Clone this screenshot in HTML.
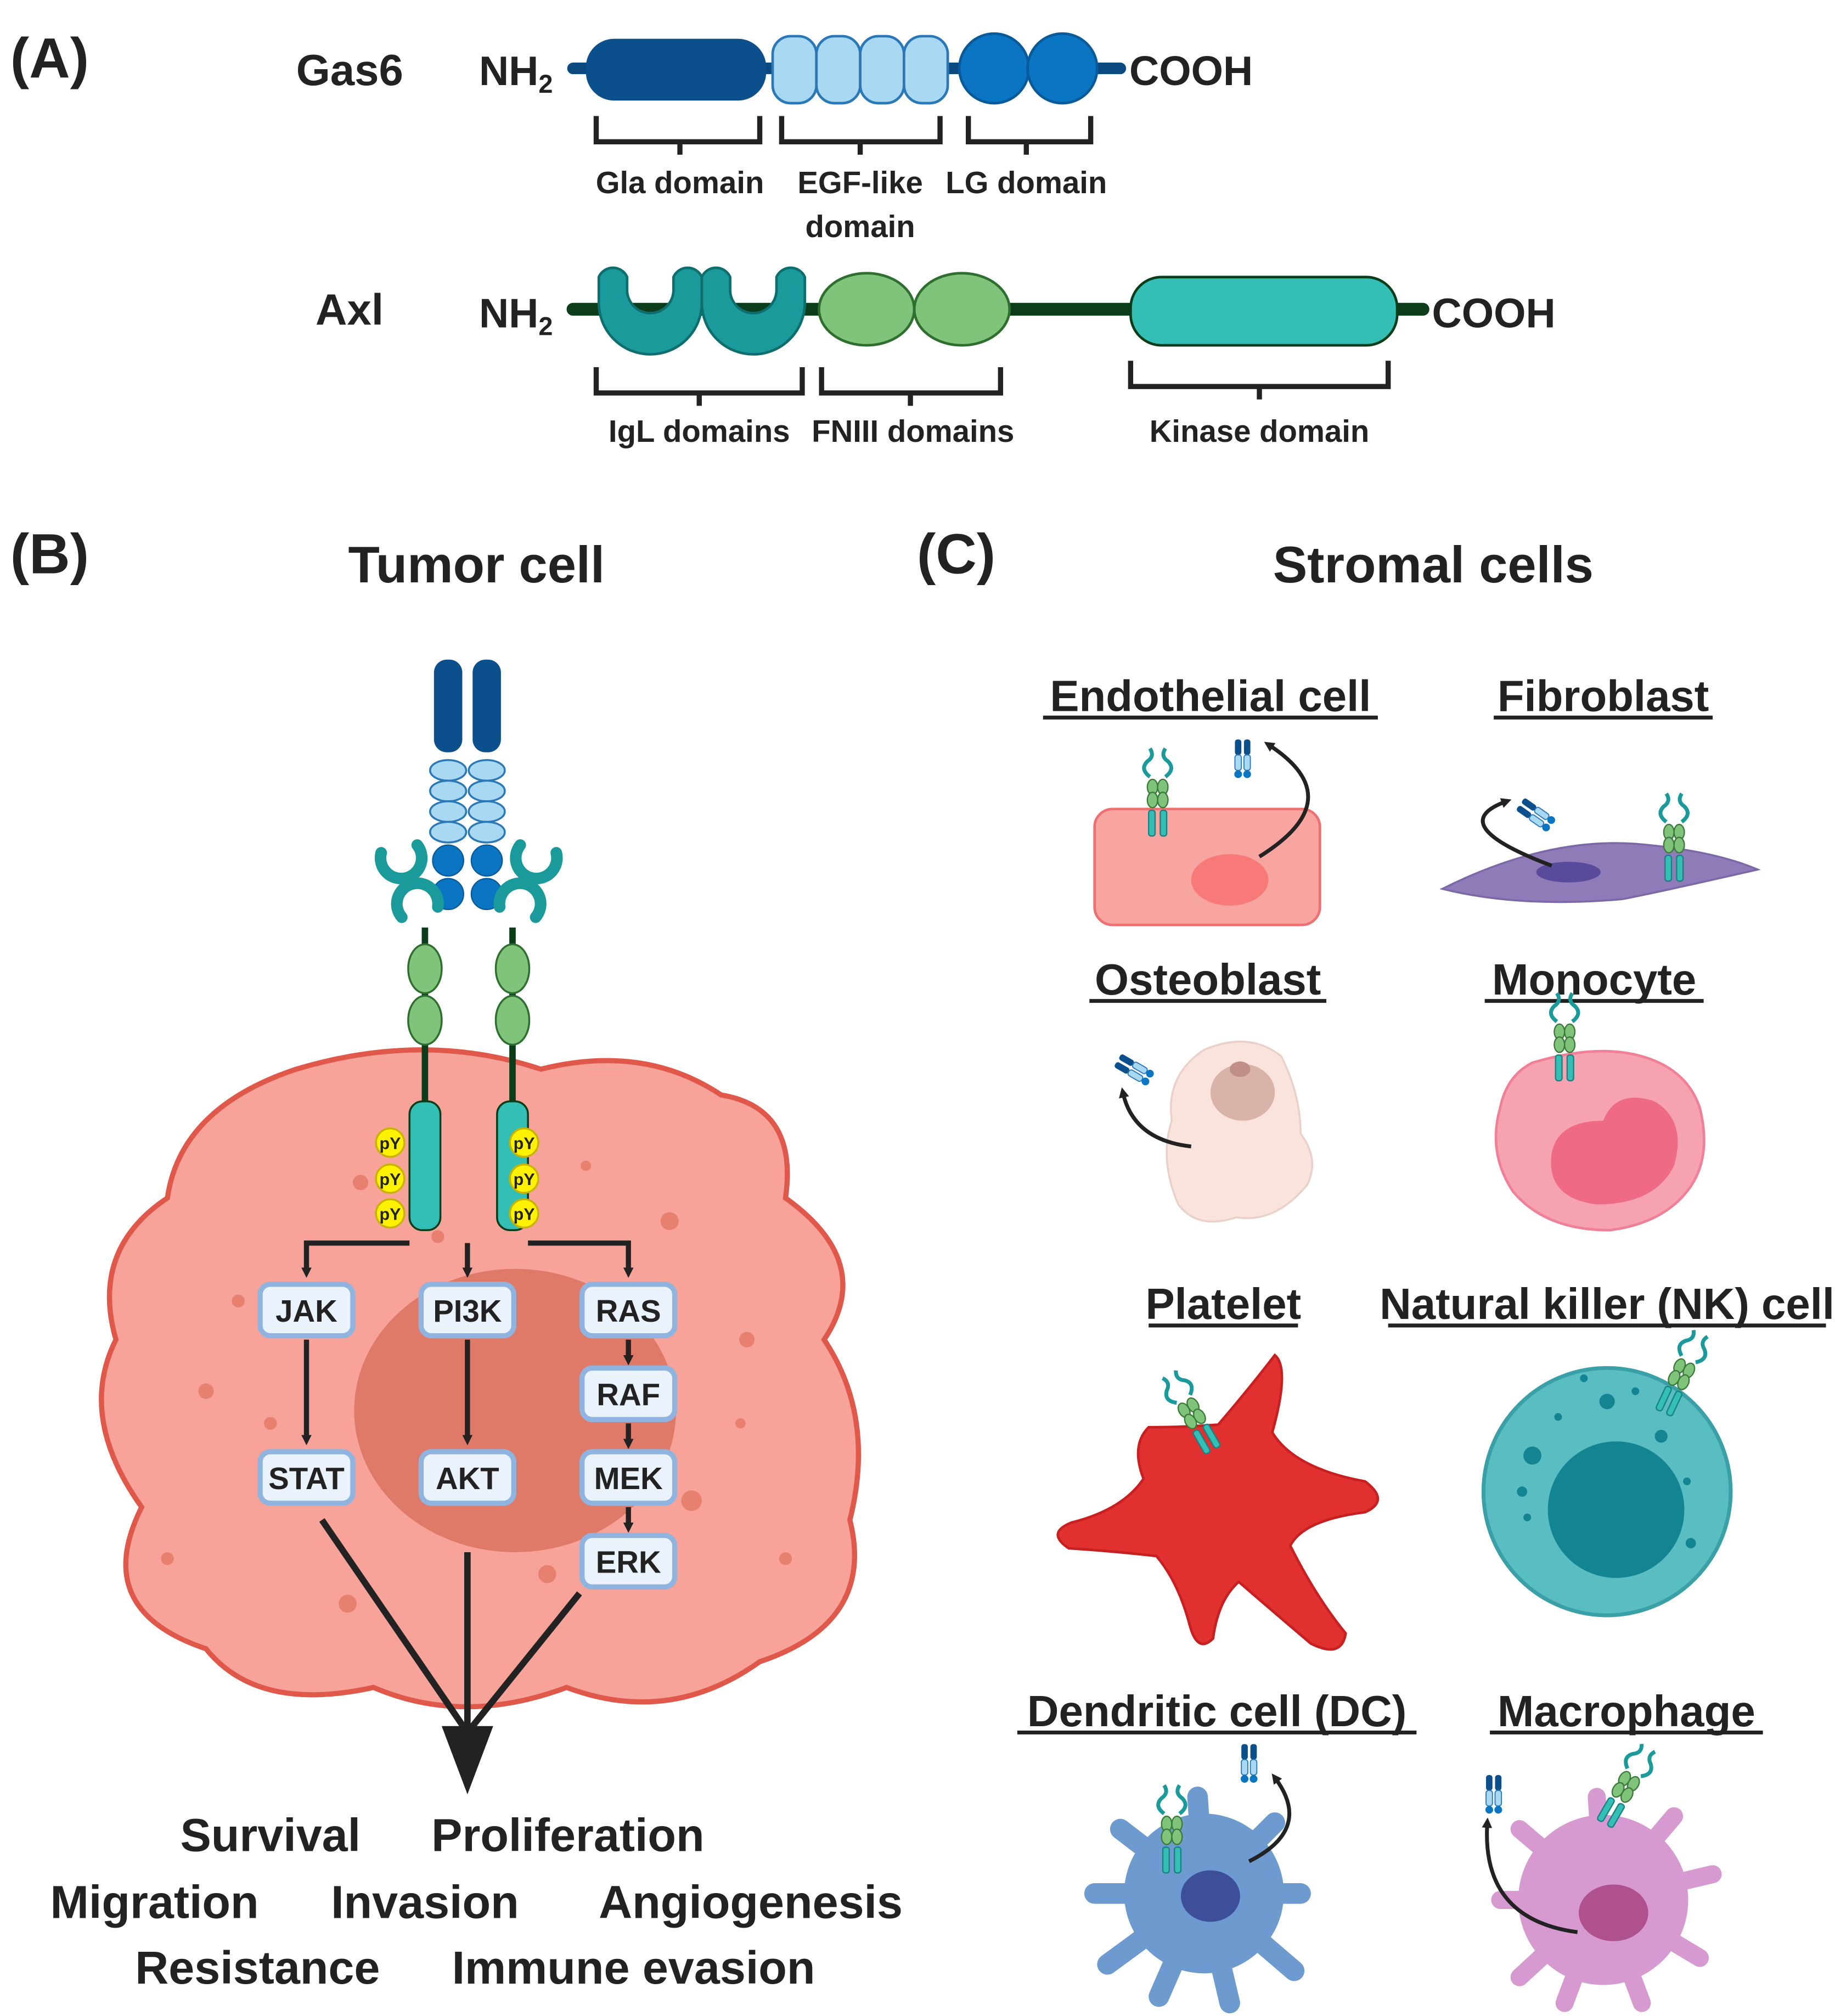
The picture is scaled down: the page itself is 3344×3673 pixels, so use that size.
<!DOCTYPE html>
<html><head><meta charset="utf-8"><style>
html,body{margin:0;padding:0;background:#fff}
svg{display:block}
text{font-family:"Liberation Sans",sans-serif;font-weight:bold;fill:#222}
</style></head><body>
<svg width="3344" height="3673" viewBox="0 0 1425 1565" xmlns="http://www.w3.org/2000/svg">
<defs>
<g id="rec">
 <path d="M-6,-22 q-8,-6 -2,-12 q6,-4 2,-10" fill="none" stroke="#1a9a9a" stroke-width="3"/>
 <path d="M6,-22 q8,-6 2,-12 q-6,-4 -2,-10" fill="none" stroke="#1a9a9a" stroke-width="3"/>
 <ellipse cx="-4" cy="-14" rx="4" ry="6" fill="#80c47c" stroke="#3a7a3a"/>
 <ellipse cx="4" cy="-14" rx="4" ry="6" fill="#80c47c" stroke="#3a7a3a"/>
 <ellipse cx="-4" cy="-4" rx="4" ry="6" fill="#80c47c" stroke="#3a7a3a"/>
 <ellipse cx="4" cy="-4" rx="4" ry="6" fill="#80c47c" stroke="#3a7a3a"/>
 <rect x="-7" y="4" width="5" height="20" rx="2" fill="#33bfb5" stroke="#1a8080"/>
 <rect x="2" y="4" width="5" height="20" rx="2" fill="#33bfb5" stroke="#1a8080"/>
</g>
<g id="gas">
 <rect x="-6" y="-14" width="5" height="12" rx="2" fill="#0b4f8c"/>
 <rect x="1" y="-14" width="5" height="12" rx="2" fill="#0b4f8c"/>
 <rect x="-6" y="-2" width="5" height="12" rx="2" fill="#a9d8f2" stroke="#2a78b8" stroke-width="0.8"/>
 <rect x="1" y="-2" width="5" height="12" rx="2" fill="#a9d8f2" stroke="#2a78b8" stroke-width="0.8"/>
 <circle cx="-3.5" cy="13" r="3" fill="#0a75c2"/><circle cx="3.5" cy="13" r="3" fill="#0a75c2"/>
</g>
<marker id="ah" markerWidth="8" markerHeight="8" refX="4" refY="4" orient="auto" markerUnits="userSpaceOnUse"><path d="M0,0 L8,4 L0,8 Z" fill="#222"/></marker>
</defs>

<!-- Panel A -->
<text x="8" y="60" font-size="44">(A)</text>
<text x="230" y="66" font-size="34">Gas6</text>
<text x="372" y="66" font-size="32">NH<tspan font-size="20" dy="6">2</tspan></text>
<line x1="445" y1="53" x2="870" y2="53" stroke="#0a4a80" stroke-width="9" stroke-linecap="round"/>
<rect x="455" y="30" width="140" height="48" rx="22" fill="#0b4f8c"/>
<rect x="600" y="28" width="34" height="52" rx="14" fill="#a9d8f2" stroke="#2a78b8" stroke-width="2"/>
<rect x="634" y="28" width="34" height="52" rx="14" fill="#a9d8f2" stroke="#2a78b8" stroke-width="2"/>
<rect x="668" y="28" width="34" height="52" rx="14" fill="#a9d8f2" stroke="#2a78b8" stroke-width="2"/>
<rect x="702" y="28" width="34" height="52" rx="14" fill="#a9d8f2" stroke="#2a78b8" stroke-width="2"/>
<circle cx="772" cy="53" r="27" fill="#0a75c2" stroke="#0a5a9a" stroke-width="2"/>
<circle cx="825" cy="53" r="27" fill="#0a75c2" stroke="#0a5a9a" stroke-width="2"/>
<text x="877" y="66" font-size="32">COOH</text>
<g fill="none" stroke="#222" stroke-width="4">
<path d="M463,90 V110 H590 V90 M528,110 V120"/>
<path d="M607,90 V110 H730 V90 M668,110 V120"/>
<path d="M752,90 V110 H847 V90 M797,110 V120"/>
</g>
<g font-size="24" text-anchor="middle">
<text x="528" y="150">Gla domain</text>
<text x="668" y="150">EGF-like</text>
<text x="668" y="184">domain</text>
<text x="797" y="150">LG domain</text>
</g>

<text x="245" y="252" font-size="34">Axl</text>
<text x="372" y="254" font-size="32">NH<tspan font-size="20" dy="6">2</tspan></text>
<line x1="445" y1="240" x2="1105" y2="240" stroke="#0b3d1a" stroke-width="10" stroke-linecap="round"/>
<path d="M465,215 a12,12 0 0 1 22,0 v10 a18,18 0 0 0 36,0 v-10 a12,12 0 0 1 22,0 v20 a40,40 0 0 1 -80,0 Z" fill="#1a9a9a" stroke="#0e6e6e" stroke-width="2"/>
<path d="M545,215 a12,12 0 0 1 22,0 v10 a18,18 0 0 0 36,0 v-10 a12,12 0 0 1 22,0 v20 a40,40 0 0 1 -80,0 Z" fill="#1a9a9a" stroke="#0e6e6e" stroke-width="2"/>
<ellipse cx="673" cy="240" rx="37" ry="28" fill="#80c47c" stroke="#2e6e2e" stroke-width="2"/>
<ellipse cx="747" cy="240" rx="37" ry="28" fill="#80c47c" stroke="#2e6e2e" stroke-width="2"/>
<rect x="878" y="215" width="207" height="53" rx="24" fill="#33bfb5" stroke="#0b3d1a" stroke-width="2"/>
<text x="1112" y="254" font-size="32">COOH</text>
<g fill="none" stroke="#222" stroke-width="4">
<path d="M463,285 V305 H623 V285 M543,305 V315"/>
<path d="M638,285 V305 H777 V285 M707,305 V315"/>
<path d="M878,280 V300 H1078 V280 M978,300 V310"/>
</g>
<g font-size="24" text-anchor="middle">
<text x="543" y="343">IgL domains</text>
<text x="709" y="343">FNIII domains</text>
<text x="978" y="343">Kinase domain</text>
</g>

<!-- Panel B -->
<text x="8" y="445" font-size="44">(B)</text>
<text x="370" y="452" font-size="40" text-anchor="middle">Tumor cell</text>
<path d="M230,830 Q330,800 420,830 Q500,810 560,850 Q620,860 610,930 Q680,980 640,1040 Q680,1100 660,1180 Q680,1260 590,1290 Q520,1340 440,1310 Q360,1340 290,1310 Q200,1330 160,1280 Q70,1250 110,1170 Q60,1100 90,1040 Q70,970 130,930 Q140,860 230,830 Z" fill="#f7a39a" stroke="#e0584a" stroke-width="4"/>
<ellipse cx="400" cy="1095" rx="125" ry="110" fill="#e07a68"/>
<g fill="#e88070">
<circle cx="280" cy="918" r="6"/><circle cx="185" cy="1010" r="5"/><circle cx="520" cy="948" r="7"/><circle cx="580" cy="1040" r="6"/><circle cx="160" cy="1080" r="6"/><circle cx="210" cy="1105" r="5"/><circle cx="537" cy="1165" r="8"/><circle cx="425" cy="1222" r="7"/><circle cx="270" cy="1245" r="7"/><circle cx="610" cy="1210" r="5"/><circle cx="130" cy="1210" r="5"/><circle cx="340" cy="960" r="5"/><circle cx="455" cy="905" r="4"/><circle cx="575" cy="1105" r="4"/>
</g>
<g>
<rect x="337" y="512" width="22" height="72" rx="10" fill="#0b4f8c"/>
<rect x="367" y="512" width="22" height="72" rx="10" fill="#0b4f8c"/>
<g fill="#a9d8f2" stroke="#2a78b8" stroke-width="1.5">
<ellipse cx="348" cy="598" rx="14" ry="8"/><ellipse cx="348" cy="614" rx="14" ry="8"/><ellipse cx="348" cy="630" rx="14" ry="8"/><ellipse cx="348" cy="646" rx="14" ry="8"/>
<ellipse cx="378" cy="598" rx="14" ry="8"/><ellipse cx="378" cy="614" rx="14" ry="8"/><ellipse cx="378" cy="630" rx="14" ry="8"/><ellipse cx="378" cy="646" rx="14" ry="8"/>
</g>
<g fill="#0a75c2" stroke="#0a5a9a"><circle cx="348" cy="668" r="12"/><circle cx="348" cy="694" r="12"/><circle cx="378" cy="668" r="12"/><circle cx="378" cy="694" r="12"/></g>
<line x1="330" y1="720" x2="330" y2="860" stroke="#0b3d1a" stroke-width="5"/>
<line x1="398" y1="720" x2="398" y2="860" stroke="#0b3d1a" stroke-width="5"/>
<g fill="none" stroke="#1a9a9a" stroke-width="9" stroke-linecap="round">
<path d="M296,662 a16,16 0 1 0 28,-6"/>
<path d="M312,712 a16,16 0 1 1 28,-8"/>
<path d="M432,662 a16,16 0 1 1 -28,-6"/>
<path d="M416,712 a16,16 0 1 0 -28,-8"/>
</g>
<g fill="#80c47c" stroke="#2e6e2e" stroke-width="1.5">
<ellipse cx="330" cy="752" rx="13" ry="19"/><ellipse cx="330" cy="792" rx="13" ry="19"/>
<ellipse cx="398" cy="752" rx="13" ry="19"/><ellipse cx="398" cy="792" rx="13" ry="19"/>
</g>
<rect x="318" y="855" width="24" height="100" rx="10" fill="#33bfb5" stroke="#0b3d1a" stroke-width="1.5"/>
<rect x="386" y="855" width="24" height="100" rx="10" fill="#33bfb5" stroke="#0b3d1a" stroke-width="1.5"/>
<g fill="#fff200" stroke="#c8b400" stroke-width="1.5">
<circle cx="303" cy="887" r="11"/><circle cx="303" cy="915" r="11"/><circle cx="303" cy="942" r="11"/>
<circle cx="407" cy="887" r="11"/><circle cx="407" cy="915" r="11"/><circle cx="407" cy="942" r="11"/>
</g>
<g font-size="13" text-anchor="middle">
<text x="303" y="892">pY</text><text x="303" y="920">pY</text><text x="303" y="947">pY</text>
<text x="407" y="892">pY</text><text x="407" y="920">pY</text><text x="407" y="947">pY</text>
</g>
</g>
<g fill="none" stroke="#222" stroke-width="4">
<path d="M318,965 H238 V988" marker-end="url(#ah)"/>
<path d="M363,965 V988" marker-end="url(#ah)"/>
<path d="M410,965 H488 V988" marker-end="url(#ah)"/>
<path d="M238,1040 V1118" marker-end="url(#ah)"/>
<path d="M363,1040 V1118" marker-end="url(#ah)"/>
<path d="M488,1040 V1056" marker-end="url(#ah)"/>
<path d="M488,1105 V1121" marker-end="url(#ah)"/>
<path d="M488,1170 V1186" marker-end="url(#ah)"/>
</g>
<g stroke="#222" stroke-width="5" fill="none">
<line x1="250" y1="1180" x2="363" y2="1345"/>
<line x1="363" y1="1205" x2="363" y2="1345"/>
<line x1="450" y1="1237" x2="363" y2="1345"/>
</g>
<path d="M343,1340 L383,1340 L363,1393 Z" fill="#222"/>
<g fill="#eaf2fb" stroke="#8fb4e0" stroke-width="4">
<rect x="202" y="997" width="72" height="40" rx="8"/>
<rect x="327" y="997" width="72" height="40" rx="8"/>
<rect x="452" y="997" width="72" height="40" rx="8"/>
<rect x="452" y="1062" width="72" height="40" rx="8"/>
<rect x="452" y="1127" width="72" height="40" rx="8"/>
<rect x="452" y="1192" width="72" height="40" rx="8"/>
<rect x="202" y="1127" width="72" height="40" rx="8"/>
<rect x="327" y="1127" width="72" height="40" rx="8"/>
</g>
<g font-size="24" text-anchor="middle">
<text x="238" y="1026" font-weight="normal">JAK</text>
<text x="363" y="1026" font-weight="normal">PI3K</text>
<text x="488" y="1026" font-weight="normal">RAS</text>
<text x="488" y="1091" font-weight="normal">RAF</text>
<text x="488" y="1156" font-weight="normal">MEK</text>
<text x="488" y="1221" font-weight="normal">ERK</text>
<text x="238" y="1156" font-weight="normal">STAT</text>
<text x="363" y="1156" font-weight="normal">AKT</text>
</g>
<g font-size="36" text-anchor="middle">
<text x="210" y="1437">Survival</text>
<text x="441" y="1437">Proliferation</text>
<text x="120" y="1489">Migration</text>
<text x="330" y="1489">Invasion</text>
<text x="583" y="1489">Angiogenesis</text>
<text x="200" y="1540">Resistance</text>
<text x="492" y="1540">Immune evasion</text>
</g>

<!-- Panel C -->
<text x="712" y="445" font-size="44">(C)</text>
<text x="1113" y="452" font-size="40" text-anchor="middle">Stromal cells</text>
<g font-size="34" text-anchor="middle">
<text x="940" y="552">Endothelial cell</text>
<text x="1245" y="552">Fibroblast</text>
<text x="938" y="772">Osteoblast</text>
<text x="1238" y="772">Monocyte</text>
<text x="950" y="1024">Platelet</text>
<text x="1248" y="1024">Natural killer (NK) cell</text>
<text x="945" y="1340">Dendritic cell (DC)</text>
<text x="1263" y="1340">Macrophage</text>
</g>
<g stroke="#222" stroke-width="3">
<line x1="810" y1="557" x2="1070" y2="557"/><line x1="1160" y1="557" x2="1330" y2="557"/>
<line x1="846" y1="777" x2="1030" y2="777"/><line x1="1153" y1="777" x2="1323" y2="777"/>
<line x1="892" y1="1029" x2="1008" y2="1029"/><line x1="1078" y1="1029" x2="1418" y2="1029"/>
<line x1="790" y1="1345" x2="1100" y2="1345"/><line x1="1157" y1="1345" x2="1369" y2="1345"/>
</g>
<rect x="850" y="628" width="175" height="90" rx="14" fill="#f8a4a0" stroke="#ef7070" stroke-width="2"/>
<ellipse cx="955" cy="683" rx="30" ry="20" fill="#f77a78"/>
<use href="#rec" x="899" y="625"/>
<use href="#gas" x="965" y="588"/>
<path d="M978,665 Q1050,620 985,578" fill="none" stroke="#222" stroke-width="3" marker-end="url(#ah)"/>
<path d="M1120,690 Q1200,650 1270,655 Q1330,660 1365,675 Q1300,690 1260,698 Q1180,705 1120,690 Z" fill="#8e7bb8" stroke="#7a68a8" stroke-width="1.5"/>
<ellipse cx="1218" cy="677" rx="25" ry="8" fill="#5a4a9c"/>
<use href="#rec" x="1300" y="660"/>
<g transform="translate(1192,632) rotate(-55)"><use href="#gas"/></g>
<path d="M1205,672 Q1120,640 1170,622" fill="none" stroke="#222" stroke-width="3" marker-end="url(#ah)"/>
<path d="M935,815 Q970,800 995,820 Q1010,850 1010,880 Q1025,900 1015,920 Q990,950 960,945 Q930,955 915,935 Q900,900 910,870 Q905,835 935,815 Z" fill="#f9e3dc" stroke="#ead0c8" stroke-width="1.5"/>
<ellipse cx="965" cy="848" rx="25" ry="22" fill="#dab3a8"/>
<ellipse cx="963" cy="830" rx="8" ry="6" fill="#c08f85"/>
<g transform="translate(880,830) rotate(-60)"><use href="#gas"/></g>
<path d="M925,890 Q880,885 872,848" fill="none" stroke="#222" stroke-width="3" marker-end="url(#ah)"/>
<path d="M1190,825 Q1240,810 1275,820 Q1310,830 1320,860 Q1330,900 1310,925 Q1290,950 1250,955 Q1200,955 1175,925 Q1155,895 1165,860 Q1170,835 1190,825 Z" fill="#f7a2b0" stroke="#f08098" stroke-width="2"/>
<path d="M1205,895 Q1210,870 1245,870 Q1255,845 1285,855 Q1310,870 1300,905 Q1285,935 1240,935 Q1200,930 1205,895 Z" fill="#ef6b85"/>
<use href="#rec" x="1215" y="815"/>
<!-- platelet -->
<path d="M990,1052 Q1002,1062 988,1112 Q1005,1140 1060,1150 Q1080,1165 1060,1174 Q1012,1180 1002,1200 Q1022,1240 1045,1268 Q1042,1288 1018,1276 Q985,1248 962,1228 Q946,1242 942,1272 Q930,1284 924,1262 Q915,1228 898,1208 Q862,1204 830,1202 Q812,1190 832,1182 Q872,1172 888,1148 Q878,1122 892,1108 Q918,1108 946,1106 Q970,1078 990,1052 Z" fill="#e13030" stroke="#c82020" stroke-width="2"/>
<g transform="translate(930,1105) rotate(-30)"><use href="#rec"/></g>
<circle cx="1248" cy="1158" r="96" fill="#5abdc2" stroke="#3aa0a8" stroke-width="3"/>
<circle cx="1255" cy="1172" r="53" fill="#138592"/>
<g fill="#138592"><circle cx="1248" cy="1088" r="6"/><circle cx="1290" cy="1115" r="5"/><circle cx="1190" cy="1130" r="7"/><circle cx="1210" cy="1100" r="3"/><circle cx="1270" cy="1080" r="3"/><circle cx="1182" cy="1158" r="4"/><circle cx="1313" cy="1198" r="4"/><circle cx="1186" cy="1178" r="3"/><circle cx="1230" cy="1070" r="3"/><circle cx="1310" cy="1150" r="3"/></g>
<g transform="translate(1302,1075) rotate(25)"><use href="#rec"/></g>
<g stroke="#6d9bd0" stroke-width="16" stroke-linecap="round">
<line x1="935" y1="1470" x2="870" y2="1420"/><line x1="935" y1="1470" x2="850" y2="1470"/><line x1="935" y1="1470" x2="860" y2="1525"/><line x1="935" y1="1470" x2="900" y2="1550"/><line x1="935" y1="1470" x2="955" y2="1555"/><line x1="935" y1="1470" x2="1005" y2="1530"/><line x1="935" y1="1470" x2="1010" y2="1470"/><line x1="935" y1="1470" x2="990" y2="1415"/><line x1="935" y1="1470" x2="930" y2="1395"/>
</g>
<circle cx="935" cy="1470" r="62" fill="#6d9bd0"/>
<ellipse cx="940" cy="1472" rx="23" ry="20" fill="#3d4e9a"/>
<use href="#rec" x="910" y="1430"/>
<use href="#gas" x="970" y="1368"/>
<path d="M970,1445 Q1020,1420 990,1380" fill="none" stroke="#222" stroke-width="3" marker-end="url(#ah)"/>
<g stroke="#d79ad0" stroke-width="14" stroke-linecap="round">
<line x1="1245" y1="1475" x2="1180" y2="1420"/><line x1="1245" y1="1475" x2="1165" y2="1475"/><line x1="1245" y1="1475" x2="1180" y2="1535"/><line x1="1245" y1="1475" x2="1215" y2="1555"/><line x1="1245" y1="1475" x2="1275" y2="1555"/><line x1="1245" y1="1475" x2="1320" y2="1520"/><line x1="1245" y1="1475" x2="1330" y2="1455"/><line x1="1245" y1="1475" x2="1300" y2="1410"/><line x1="1245" y1="1475" x2="1240" y2="1395"/>
</g>
<circle cx="1245" cy="1475" r="66" fill="#d79ad0"/>
<ellipse cx="1253" cy="1485" rx="27" ry="22" fill="#b0518f"/>
<g transform="translate(1258,1395) rotate(30)"><use href="#rec"/></g>
<use href="#gas" x="1160" y="1392"/>
<path d="M1225,1500 Q1150,1490 1155,1415" fill="none" stroke="#222" stroke-width="3" marker-end="url(#ah)"/>
</svg>
</body></html>
